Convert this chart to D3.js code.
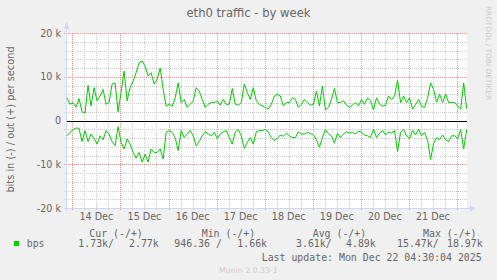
<!DOCTYPE html>
<html><head><meta charset="utf-8">
<script src="https://cdn.jsdelivr.net/npm/d3@7"></script>
<style>
html,body{margin:0;padding:0;background:#F0F0F0;}
svg{display:block;}
text{font-family:"DejaVu Sans",sans-serif;fill:#666666;}
.mono{font-family:"DejaVu Sans Mono",monospace;white-space:pre;}
</style></head>
<body>
<script>
// ---- data (kbit/s), one sample every 1.5 h starting Dec 13 21:20 UTC ----
const title = "eth0 traffic - by week";
const yLabel = "bits in (-) / out (+) per second";
const seriesName = "bps";
const outK = [5.2,3.7,4.1,3.0,5.0,2.0,1.7,8.0,3.3,7.5,4.5,5.6,7.1,3.7,4.1,8.3,8.6,2.0,6.4,11.3,
  4.5,7.5,9.0,10.9,13.2,13.6,12.4,10.2,10.9,8.3,9.4,12.0,7.1,3.3,3.7,3.2,5.2,8.6,4.1,4.8,
  3.0,3.7,4.5,7.5,6.7,4.8,3.0,3.7,4.1,4.1,4.5,3.5,4.8,3.7,3.7,7.3,3.7,3.5,4.1,8.3,
  6.4,4.8,7.5,4.5,3.7,3.3,3.0,2.6,3.7,5.6,6.0,5.6,3.3,4.1,4.1,5.2,4.8,3.0,3.7,4.8,
  4.1,3.5,3.7,6.7,3.3,7.9,2.4,3.0,4.8,7.3,4.1,4.1,4.5,3.5,3.0,3.5,4.1,3.3,4.8,3.7,
  5.2,4.5,2.4,5.2,3.7,3.3,3.5,5.6,4.8,5.6,9.2,4.1,5.6,4.1,5.2,2.6,3.7,4.8,3.2,3.0,
  5.2,8.6,7.1,4.2,6.0,4.1,6.0,4.1,4.1,4.1,3.3,2.6,8.6,2.7];
const inK = [3.5,2.7,2.1,1.7,1.8,4.8,2.3,4.8,3.1,4.1,5.4,3.5,4.4,2.3,3.1,4.8,5.8,1.4,5.0,6.5,
  4.2,5.4,7.3,8.6,7.3,9.5,7.7,9.5,6.5,7.3,7.3,6.5,8.8,2.7,2.3,2.7,3.9,6.9,2.3,3.9,
  3.1,2.3,3.5,5.8,4.8,3.5,2.6,3.1,3.5,2.7,4.1,3.1,2.6,2.3,3.9,5.4,2.6,2.1,3.5,6.4,
  5.0,3.9,5.4,2.6,2.3,2.3,2.0,2.7,3.9,4.6,4.1,3.3,3.6,2.9,3.5,3.9,3.9,2.6,3.1,3.1,
  2.7,3.0,3.3,4.4,6.1,3.9,2.1,3.0,3.5,5.2,2.9,3.9,3.1,2.6,2.9,2.7,3.1,2.4,2.7,3.3,
  3.5,3.9,2.0,3.9,2.9,2.3,3.3,2.6,2.9,2.3,7.1,2.7,2.1,3.5,4.1,2.3,3.3,2.0,3.5,2.7,
  4.6,8.9,5.2,3.9,4.4,3.3,4.4,4.8,3.5,3.5,4.1,2.1,6.5,2.1];
const yTickValues = [-20000,-10000,0,10000,20000];
const yTickLabels = ["-20 k","-10 k","0","10 k","20 k"];
const dayLabels = ["14 Dec","15 Dec","16 Dec","17 Dec","18 Dec","19 Dec","20 Dec","21 Dec"];
const legendHeaders = ["Cur (-/+)","Min (-/+)","Avg (-/+)","Max (-/+)"];
const legendValues = ["1.73k/","2.77k","946.36 /","1.66k","3.61k/","4.89k","15.47k/","18.97k"];
const lastUpdate = "Last update: Mon Dec 22 04:30:04 2025";
const footer = "Munin 2.0.33-1";
const vendor = "RRDTOOL / TOBI OETIKER";

const W = 497, H = 280;
const L = 67, R = 467, T = 33, B = 208;
const t0 = Date.UTC(2025,11,13,21,20), t1 = Date.UTC(2025,11,22,5,0);
const stepMs = 1.5*3600*1000;

const svg = d3.select("body").append("svg").attr("width",W).attr("height",H);
svg.append("rect").attr("width",W).attr("height",H).attr("fill","#F0F0F0");

const x = d3.scaleUtc().domain([new Date(t0), new Date(t1)]).range([L,R]);
const y = d3.scaleLinear().domain([-20000,20000]).range([B,T]);

// canvas
svg.append("rect").attr("x",L).attr("y",T).attr("width",R-L).attr("height",B-T).attr("fill","#FFFFFF");

const grid = svg.append("g");
const px = v => Math.round(v)+0.5;
// minor vertical (6 h)
const minorX = d3.utcHour.every(6).range(new Date(t0), new Date(t1)).filter(d=>d.getUTCHours()!==0);
grid.selectAll(".mvx").data(minorX).join("line")
  .attr("x1",d=>px(x(d))).attr("x2",d=>px(x(d)))
  .attr("y1",T).attr("y2",B+2).attr("stroke","#CCCCCC").attr("stroke-dasharray","1 1");
// minor horizontal (2 k)
const minorY = d3.range(-18000,20000,2000).filter(v=>Math.abs(v)%10000!==0);
grid.selectAll(".mhy").data(minorY).join("line")
  .attr("x1",L-3).attr("x2",R).attr("y1",d=>px(y(d))).attr("y2",d=>px(y(d)))
  .attr("stroke","#CCCCCC").attr("stroke-dasharray","1 1");
// major vertical (midnight)
const majorX = d3.utcDay.range(new Date(t0), new Date(t1));
grid.selectAll(".Mvx").data(majorX).join("line")
  .attr("x1",d=>px(x(d))).attr("x2",d=>px(x(d)))
  .attr("y1",T).attr("y2",B+2).attr("stroke","#F09090").attr("stroke-dasharray","1 1");
// major horizontal
grid.selectAll(".Mhy").data(yTickValues.filter(v=>v!==0)).join("line")
  .attr("x1",L-3).attr("x2",R).attr("y1",d=>px(y(d))).attr("y2",d=>px(y(d)))
  .attr("stroke","#F09090").attr("stroke-dasharray","1 1");

// axes
const axisCol = "#CFD6F8";
grid.append("line").attr("x1",L-0.5).attr("x2",L-0.5).attr("y1",B+3).attr("y2",T-6).attr("stroke",axisCol);
grid.append("line").attr("x1",L-3).attr("x2",R+5).attr("y1",B+0.5).attr("y2",B+0.5).attr("stroke",axisCol);
svg.append("path").attr("d",`M${L-3.5},${T-4}L${L-0.5},${T-11}L${L+2.5},${T-4}Z`).attr("fill",axisCol);
svg.append("path").attr("d",`M${R+3},${B-2.5}L${R+9},${B+0.5}L${R+3},${B+3.5}Z`).attr("fill",axisCol);

// y tick labels
svg.selectAll(".yl").data(yTickValues).join("text")
  .attr("x",61).attr("y",d=>y(d)+3.5).attr("text-anchor","end").attr("font-size","9.6px")
  .text((d,i)=>yTickLabels[i]);
// x tick labels at noon
const noons = majorX.map(d=>new Date(+d + 12*3600*1000));
svg.selectAll(".xl").data(noons).join("text")
  .attr("x",d=>x(d)).attr("y",219.5).attr("text-anchor","middle").attr("font-size","9.6px")
  .text((d,i)=>dayLabels[i]);

// data lines
const outPts = outK.map((v,i)=>({t:new Date(t0+i*stepMs), v:v*1000}));
const inPts = inK.map((v,i)=>({t:new Date(t0+i*stepMs), v:-v*1000}));
const line = d3.line().x(d=>x(d.t)).y(d=>y(d.v));
svg.append("path").datum(outPts).attr("d",line).attr("fill","none").attr("stroke","#00CC00").attr("stroke-width",1);
svg.append("path").datum(inPts).attr("d",line).attr("fill","none").attr("stroke","#00CC00").attr("stroke-width",1);
// zero line
svg.append("line").attr("x1",L).attr("x2",R).attr("y1",px(y(0))).attr("y2",px(y(0)))
  .attr("stroke","#000");

// title
svg.append("text").attr("x",248.5).attr("y",17).attr("text-anchor","middle").attr("font-size","11.6px").text(title);
// y label
svg.append("text").attr("transform","translate(13.5,119.5) rotate(-90)").attr("text-anchor","middle")
  .attr("font-size","9.8px").text(yLabel);
// vendor
svg.append("text").attr("transform","translate(486,6) rotate(90)").attr("font-size","7.3px")
  .style("fill","#CCCCCC").text(vendor);

// legend
const hdrX = [89.3,201.7,312.7,423];
svg.selectAll(".lh").data(legendHeaders).join("text").attr("class","mono")
  .attr("x",(d,i)=>hdrX[i]).attr("y",237).attr("font-size","9.9px").text(d=>d);
svg.append("rect").attr("x",14).attr("y",241).attr("width",5).attr("height",5).attr("fill","#00CC00");
svg.append("text").attr("class","mono").attr("x",26.7).attr("y",246.5).attr("font-size","9.9px").text(seriesName);
const valX = [78.3,129,174.3,237.3,296,346,397,447];
svg.selectAll(".lv").data(legendValues).join("text").attr("class","mono")
  .attr("x",(d,i)=>valX[i]).attr("y",246.5).attr("font-size","9.9px").text(d=>d);
svg.append("text").attr("class","mono").attr("x",261.7).attr("y",260.5).attr("font-size","9.9px").text(lastUpdate);
svg.append("text").attr("x",219).attr("y",272.5).attr("font-size","7.8px").style("fill","#CCCCCC").text(footer);
</script>
</body></html>
